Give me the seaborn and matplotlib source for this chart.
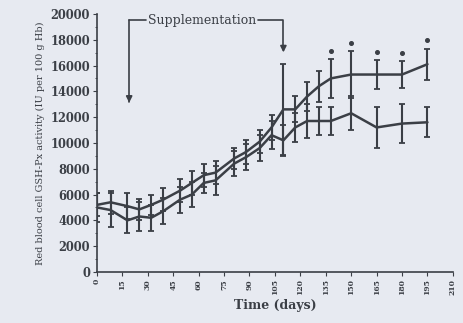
import numpy as np
import pandas as pd
import matplotlib
matplotlib.use("Agg")
import matplotlib.pyplot as plt
import seaborn as sns

days = [0, 8, 18, 25, 32, 39, 49, 56, 63, 70, 81, 88, 96, 103, 110, 117, 124, 131, 138, 150, 165, 180, 195]
supp = [5200, 5400, 5100, 4850, 5200, 5600, 6300, 6900, 7500, 7700, 8800, 9300, 10100, 11200, 12600, 12600, 13600, 14400, 15000, 15300, 15300, 15300, 16100]
supp_err = [900, 900, 1000, 800, 800, 900, 900, 900, 900, 900, 800, 900, 900, 1000, 3500, 1000, 1100, 1200, 1500, 1800, 1100, 1050, 1200]
ctrl = [5000, 4800, 4000, 4300, 4200, 4700, 5600, 6000, 6900, 7100, 8400, 8900, 9600, 10600, 10200, 11200, 11700, 11700, 11700, 12300, 11200, 11500, 11600]
ctrl_err = [1100, 1300, 1000, 1100, 1000, 1000, 1000, 1000, 800, 1100, 1000, 1000, 1000, 1100, 1200, 1100, 1300, 1100, 1100, 1300, 1600, 1500, 1150]
star_days = [138, 150, 165, 180, 195]
x_ticks = list(range(0, 211, 15))
y_ticks = list(range(0, 20001, 2000))
supp_start, supp_end = 19, 110

sns.set_theme(style="ticks")
plt.rcParams['font.family'] = ['DejaVu Serif']

bg = '#e7eaf1'
fig = plt.figure(figsize=(4.64, 3.23), dpi=100, facecolor=bg)
ax = fig.add_axes([0.209, 0.158, 0.767, 0.799])
ax.set_facecolor(bg)

col = '#3b3f46'
df = pd.DataFrame({'day': days * 2,
                   'val': supp + ctrl,
                   'grp': ['supp'] * len(days) + ['ctrl'] * len(days)})
sns.lineplot(data=df, x='day', y='val', hue='grp', palette={'supp': col, 'ctrl': col},
             linewidth=1.8, legend=False, ax=ax, estimator=None)
ax.errorbar(days, supp, yerr=supp_err, fmt='none', ecolor=col, elinewidth=1.5, capsize=2.2, capthick=1.3)
ax.errorbar(days, ctrl, yerr=ctrl_err, fmt='none', ecolor=col, elinewidth=1.5, capsize=2.2, capthick=1.3)

for d in star_days:
    i = days.index(d)
    ax.plot(d, supp[i] + supp_err[i] + 650, marker='o', markersize=2.6, color=col)

# Supplementation bracket
ytop = 19500
ax.plot([supp_start, supp_start], [ytop, 13200], color=col, lw=1.2)
ax.annotate('', xy=(supp_start, 12900), xytext=(supp_start, 13800),
            arrowprops=dict(arrowstyle='-|>', color=col, lw=1.2, mutation_scale=9))
ax.plot([supp_start, 29], [ytop, ytop], color=col, lw=1.2)
ax.plot([95, supp_end, supp_end], [ytop, ytop, 17300], color=col, lw=1.2)
ax.annotate('', xy=(supp_end, 16800), xytext=(supp_end, 17600),
            arrowprops=dict(arrowstyle='-|>', color=col, lw=1.2, mutation_scale=9))
ax.text(62, ytop, 'Supplementation', ha='center', va='center', fontsize=9, color=col)

ax.set_xlim(0, 210)
ax.set_ylim(0, 20000)
ax.set_xticks(x_ticks)
ax.set_xticklabels([str(t) for t in x_ticks], rotation=90, fontsize=5.5, fontweight='bold', color=col)
ax.set_yticks(y_ticks)
ax.set_yticks(list(range(1000, 20000, 2000)), minor=True)
ax.set_yticklabels([str(t) for t in y_ticks], fontsize=8.3, fontweight='bold', color=col)
ax.tick_params(axis='both', which='major', length=3, width=0.8, color=col, pad=2)
ax.tick_params(axis='y', which='minor', length=1.5, width=0.6, color=col)
for s in ['top', 'right']:
    ax.spines[s].set_visible(False)
for s in ['left', 'bottom']:
    ax.spines[s].set_color(col)
    ax.spines[s].set_linewidth(1.2)
ax.set_xlabel('Time (days)', fontsize=9, fontweight='bold', color=col, labelpad=3)
ax.set_ylabel('Red blood cell GSH-Px activity (IU per 100 g Hb)', fontsize=7, color=col, labelpad=4)

fig.savefig('out.png', dpi=100, facecolor=bg)
